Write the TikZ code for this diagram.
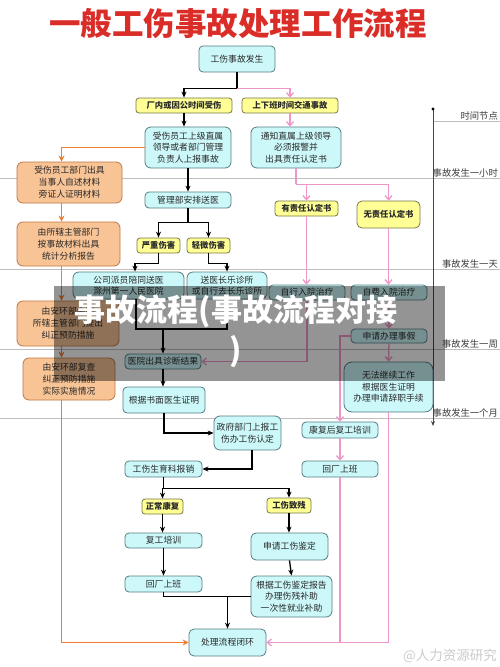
\documentclass[tikz,border=0pt]{standalone}
\usepackage{fontspec}
\newfontfamily\cjk{Noto Sans CJK SC}
\usetikzlibrary{arrows.meta,calc}
\definecolor{cyanfill}{RGB}{205,248,250}
\definecolor{cyanline}{RGB}{85,125,130}
\definecolor{yelfill}{RGB}{255,255,150}
\definecolor{yelline}{RGB}{120,120,70}
\definecolor{orafill}{RGB}{248,196,150}
\definecolor{oraline}{RGB}{190,120,70}
\definecolor{oraarrow}{RGB}{240,125,50}
\definecolor{pinkarrow}{RGB}{238,150,200}
\definecolor{titlered}{RGB}{218,45,40}
\definecolor{gridgray}{RGB}{190,190,190}
\definecolor{txt}{RGB}{40,40,40}
\definecolor{tlab}{RGB}{60,60,60}
\definecolor{axisgray}{RGB}{70,70,70}
\tikzset{
 cbox/.style={draw=cyanline, fill=cyanfill, rounded corners=4pt, line width=0.8pt, inner sep=0pt, align=center, font=\cjk\fontsize{8.8}{11.5}\selectfont, text=txt},
 ybox/.style={draw=yelline, fill=yelfill, rounded corners=3pt, line width=0.8pt, inner sep=0pt, align=center, font=\cjk\bfseries\fontsize{8.3}{11}\selectfont, text=txt},
 obox/.style={draw=oraline, fill=orafill, rounded corners=6pt, line width=0.8pt, inner sep=0pt, align=center, font=\cjk\fontsize{8.8}{12}\selectfont, text=txt},
 blk/.style={draw=black, line width=1.3pt},
 barr/.style={blk, -{Stealth[length=6pt,width=5pt]}},
 pk/.style={draw=pinkarrow, line width=1.3pt},
 parr/.style={pk, -{Straight Barb[length=4pt,width=7pt]}},
 og/.style={draw=oraarrow, line width=1.3pt},
 oarr/.style={og, -{Stealth[length=6pt,width=6pt]}},
 gridline/.style={draw=gridgray, line width=0.7pt},
 tlabel/.style={font=\cjk\fontsize{9.3}{10}\selectfont, text=tlab, anchor=base east, inner sep=0pt},
}
\begin{document}
\begin{tikzpicture}[x=1pt,y=-1pt]
\fill[white] (0,0) rectangle (500,667);
\useasboundingbox (0,0) rectangle (500,667);

% title
\node[font=\cjk\bfseries\fontsize{31.5}{32}\selectfont, text=titlered, inner sep=0pt] (title) at (238,24) {一般工伤事故处理工作流程};

% time grid
\draw[gridline] (433,121) -- (500,121);
\draw[gridline] (0,178) -- (500,178);
\draw[gridline] (0,269) -- (500,269);
\draw[gridline] (0,349) -- (500,349);
\draw[gridline] (0,418) -- (500,418);
\node[tlabel] (tl0) at (498,119) {时间节点};
\node[tlabel] (tl1) at (498,176.5) {事故发生一小时};
\node[tlabel] (tl2) at (498,267.5) {事故发生一天};
\node[tlabel] (tl3) at (498,347.5) {事故发生一周};
\node[tlabel] (tl4) at (498,416.5) {事故发生一个月};
\coordinate (ax0) at (433,109);
\coordinate (ax1) at (433,426);
\draw[draw=axisgray, line width=0.8pt, -{Stealth[length=5pt,width=4pt]}] (ax0) -- (ax1);
\fill[black] (ax0) circle (1.7);

% nodes
\node[cbox, minimum width=76pt, minimum height=26pt] (n1) at (237,59) {工伤事故发生};
\node[ybox, minimum width=96pt, minimum height=15pt] (y1) at (184,105.5) {厂内或因公时间受伤};
\node[ybox, minimum width=96pt, minimum height=15pt] (y2) at (290,105.5) {上下班时间交通事故};
\node[cbox, rounded corners=6pt, minimum width=86pt, minimum height=41pt] (c1) at (188,147.5) {受伤员工上级直属\\领导或者部门管理\\负责人上报事故};
\node[cbox, rounded corners=6pt, minimum width=90pt, minimum height=41pt] (c2) at (296,147.5) {通知直属上级领导\\必须报警并\\出具责任认定书};
\node[obox, minimum width=105pt, minimum height=41pt] (o1) at (69.5,182.5) {受伤员工部门出具\\当事人自述材料\\旁证人证明材料};
\node[obox, minimum width=103pt, minimum height=44pt] (o2) at (68.5,244) {由所辖主管部门\\按事故材料出具\\统计分析报告};
\node[obox, minimum width=102pt, minimum height=45pt] (o3) at (68,323.5) {由安环部会同\\所辖主管部门提出\\纠正预防措施};
\node[obox, minimum width=92pt, minimum height=42pt] (o4) at (69,379) {由安环部复查\\纠正预防措施\\实际实施情况};
\node[cbox, minimum width=86pt, minimum height=16pt] (c3) at (188,200) {管理部安排送医};
\node[ybox, minimum width=43pt, minimum height=15pt] (y3) at (158.5,245.5) {严重伤害};
\node[ybox, minimum width=43pt, minimum height=15pt] (y4) at (208.5,245.5) {轻微伤害};
\node[ybox, minimum width=63pt, minimum height=15pt] (y5) at (306.5,208.5) {有责任认定书};
\node[ybox, rounded corners=5pt, minimum width=63pt, minimum height=27pt] (y6) at (388.5,214.5) {无责任认定书};
\node[cbox, rounded corners=6pt, minimum width=111pt, minimum height=27pt] (c4) at (128.5,285.5) {公司派员陪同送医\\滁州第一人民医院};
\node[cbox, rounded corners=6pt, minimum width=80pt, minimum height=27pt] (c5) at (227,285.5) {送医长乐诊所\\或自行去长乐诊所};
\node[cbox, minimum width=76pt, minimum height=15pt] (t1) at (307,292.5) {自行入院治疗};
\node[cbox, minimum width=76pt, minimum height=15pt] (t2) at (389,292.5) {自费入院治疗};
\node[cbox, minimum width=76pt, minimum height=14pt] (t3) at (389,336) {申请办理事假};
\node[cbox, minimum width=76pt, minimum height=15pt] (c6) at (163,361.5) {医院出具诊断结果};
\node[cbox, rounded corners=8pt, minimum width=89pt, minimum height=50pt] (c7) at (388.5,387) {无法继续工作\\根据医生证明\\办理申请辞职手续};
\node[cbox, minimum width=82pt, minimum height=26pt] (c8) at (164,400) {根据书面医生证明};
\node[cbox, rounded corners=6pt, minimum width=67pt, minimum height=34pt] (c9) at (247.5,433) {政府部门上报工\\伤办工伤认定};
\node[cbox, minimum width=76pt, minimum height=16pt] (c10) at (340,430) {康复后复工培训};
\node[cbox, minimum width=77pt, minimum height=16pt] (c11) at (163.5,469) {工伤生育科报销};
\node[cbox, minimum width=76pt, minimum height=16pt] (c12) at (340,469) {回厂上班};
\node[ybox, minimum width=41pt, minimum height=15pt] (y7) at (162.5,506.5) {正常康复};
\node[ybox, minimum width=44pt, minimum height=15pt] (y8) at (289,505.5) {工伤致残};
\node[cbox, minimum width=77pt, minimum height=15pt] (c13) at (163.5,540.5) {复工培训};
\node[cbox, rounded corners=5pt, minimum width=77pt, minimum height=27pt] (c14) at (289.5,546.5) {申请工伤鉴定};
\node[cbox, minimum width=77pt, minimum height=16pt] (c15) at (163.5,584) {回厂上班};
\node[cbox, rounded corners=6pt, minimum width=81pt, minimum height=41pt] (c16) at (291.5,596.5) {根据工伤鉴定报告\\办理伤残补助\\一次性就业补助};
\node[cbox, rounded corners=5pt, minimum width=77pt, minimum height=27pt] (c17) at (227.5,642.5) {处理流程闭环};

% black connectors
\coordinate (s1) at ($(n1.south)+(0,16)$);
\draw[barr] (n1.south) -- (s1) -| (y1.north);
\draw[barr] (y1.south) -- (y1.south |- c1.north);
\draw[barr] (c1.south) -- (c3.north);
\coordinate (s3) at ($(c3.south)+(0,14)$);
\draw[blk] (c3.south) -- (s3);
\draw[barr] (s3) -| (y3.north);
\draw[barr] (s3) -| (y4.north);
\draw[barr] (y3.south) -- ++(0,10) -| ([xshift=6.5pt]c4.north);
\draw[barr] (y4.south) -- ++(0,10) -| (c5.north);
\coordinate (m1) at (163,329);
\draw[blk] ([xshift=7.5pt]c4.south) |- (m1);
\draw[blk] (c5.south) |- (m1);
\draw[barr] (m1) -- (c6.north);
\draw[barr] (c6.south) -- (c6.south |- c8.north);
\draw[barr] (c8.south) |- (c9.west);
\draw[barr] ([xshift=4.5pt]c9.south) |- (c11.east);
\coordinate (s4) at ($(c11.south)+(0,11)$);
\draw[blk] (c11.south) -- (s4);
\draw[barr] (s4) -| (y7.north);
\draw[barr] (s4) -| (y8.north);
\draw[barr] (y7.south) -- (y7.south |- c13.north);
\draw[barr] (c13.south) -- (c15.north);
\draw[barr] (y8.south) -- (y8.south |- c14.north);
\draw[barr] (c14.south) -- (c16.north);
\draw[blk] (c15.south) |- (c16.west);
\draw[barr] (c17.north |- c16.west) -- (c17.north);

% pink connectors
\draw[parr] (s1) -| (y2.north);
\draw[parr] (y2.south) -- (y2.south |- c2.north);
\coordinate (s2) at ($(c2.south)+(0,16)$);
\draw[pk] (c2.south) -- (s2);
\draw[parr] (s2) -| (y5.north);
\draw[parr] (s2) -| (y6.north);
\draw[parr] (y5.south) -- (y5.south |- t1.north);
\draw[parr] (y6.south) -- (y6.south |- t2.north);
\draw[parr] (t1.south) |- (c6.east);
\draw[parr] (t2.south) -- (t3.north);
\draw[parr] (t3.south) -- (c7.north);
\draw[parr] (t3.west) -| (c10.north);
\draw[parr] (c10.south) -- (c12.north);
\draw[pk] (c12.south) |- (c17.east);
\draw[parr] (c7.south) |- (c17.east);

% orange connectors
\coordinate (xo) at (61.5,0);
\draw[oarr] (c1.west) -| (o1.north -| xo);
\draw[oarr] (o1.south -| xo) -- (o2.north -| xo);
\draw[oarr] (o2.south -| xo) -- (o3.north -| xo);
\draw[oarr] (o3.south -| xo) -- (o4.north -| xo);
\draw[oarr] (o4.south -| xo) |- (c17.west);

% overlay banner
\fill[black, opacity=0.42] (54,286) rectangle (445,381);
\node[font=\cjk\bfseries\fontsize{31}{40}\selectfont, text=white, align=center, inner sep=0pt] (banner) at (236,331.5) {事故流程(事故流程对接\\)};

% watermark
\node[font=\cjk\fontsize{13.5}{14}\selectfont, text=gray!40, inner sep=0pt] (wm) at (450,656) {@人力资源研究};
\end{tikzpicture}
\end{document}
